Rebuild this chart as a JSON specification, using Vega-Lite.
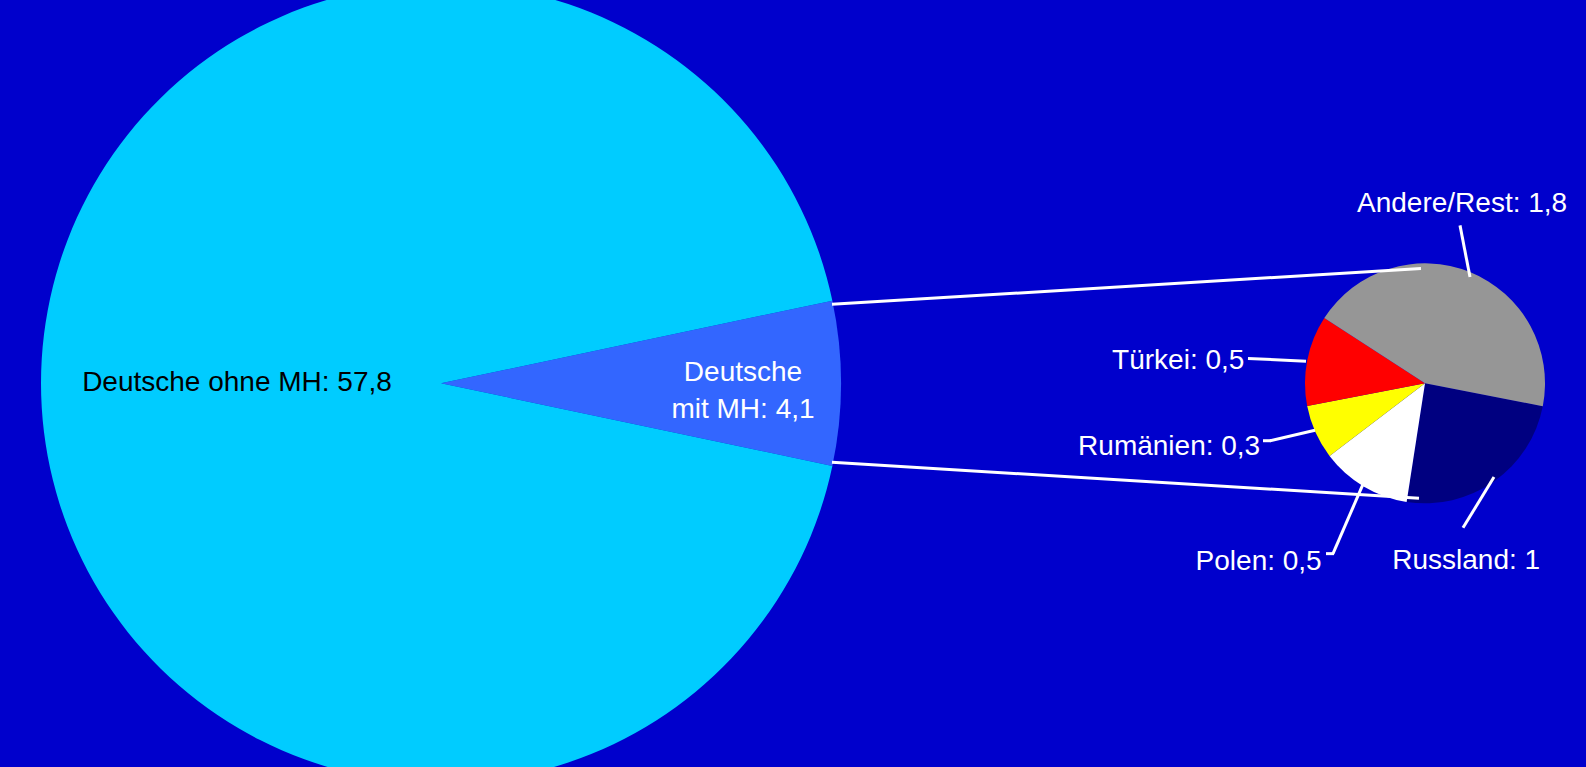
{
  "$schema": "https://vega.github.io/schema/vega-lite/v6.json",
  "width": 1586,
  "height": 767,
  "autosize": {"type": "fit", "contains": "padding"},
  "padding": 0,
  "background": "#0000CC",
  "config": {"view": {"stroke": null}, "text": {"font": "Liberation Sans", "fontSize": 28}},
  "datasets": {
    "gesamt": [
      {"nr": 1, "Gruppe": "Deutsche mit MH", "Wert": 4.1, "label": "Deutsche\nmit MH: 4,1"},
      {"nr": 2, "Gruppe": "Deutsche ohne MH", "Wert": 57.8, "label": "Deutsche ohne MH: 57,8"}
    ],
    "mitMH": [
      {"nr": 1, "Gruppe": "Russland", "Wert": 1.0, "label": "Russland: 1"},
      {"nr": 2, "Gruppe": "Polen", "Wert": 0.5, "label": "Polen: 0,5"},
      {"nr": 3, "Gruppe": "Rumänien", "Wert": 0.3, "label": "Rumänien: 0,3"},
      {"nr": 4, "Gruppe": "Türkei", "Wert": 0.5, "label": "Türkei: 0,5"},
      {"nr": 5, "Gruppe": "Andere/Rest", "Wert": 1.8, "label": "Andere/Rest: 1,8"}
    ]
  },
  "resolve": {"scale": {"theta": "independent"}},
  "layer": [
    {
      "data": {"name": "gesamt"},
      "mark": {"type": "arc", "radius": 400},
      "encoding": {
        "x": {"datum": 441, "type": "quantitative", "scale": {"domain": [0, 1586], "nice": false, "zero": false}, "axis": null},
        "y": {"datum": 388, "type": "quantitative", "scale": {"domain": [0, 767], "nice": false, "zero": false, "reverse": true}, "axis": null},
        "theta": {"field": "Wert", "type": "quantitative", "stack": true, "scale": {"range": [1.3627, 7.6459]}},
        "order": {"field": "nr", "type": "quantitative"},
        "color": {"field": "Gruppe", "type": "nominal", "legend": null,
          "scale": {"domain": ["Deutsche mit MH", "Deutsche ohne MH", "Russland", "Polen", "Rumänien", "Türkei", "Andere/Rest"],
                    "range": ["#3366FF", "#00CCFF", "#000080", "#FFFFFF", "#FFFF00", "#FF0000", "#969696"]}}
      }
    },
    {
      "data": {"name": "gesamt"},
      "mark": {"type": "text", "radius": 204, "align": "center", "baseline": "middle"},
      "encoding": {
        "x": {"datum": 441, "type": "quantitative", "axis": null},
        "y": {"datum": 388, "type": "quantitative", "axis": null},
        "theta": {"field": "Wert", "type": "quantitative", "stack": true, "scale": {"range": [1.3627, 7.6459]}},
        "order": {"field": "nr", "type": "quantitative"},
        "text": {"condition": {"test": "datum.nr === 2", "field": "label"}, "value": ""},
        "color": {"value": "#000000"}
      }
    },
    {
      "data": {"name": "gesamt"},
      "mark": {"type": "text", "radius": 302, "align": "center", "baseline": "middle", "lineBreak": "\n", "lineHeight": 37, "dy": -10},
      "encoding": {
        "x": {"datum": 441, "type": "quantitative", "axis": null},
        "y": {"datum": 388, "type": "quantitative", "axis": null},
        "theta": {"field": "Wert", "type": "quantitative", "stack": true, "scale": {"range": [1.3627, 7.6459]}},
        "order": {"field": "nr", "type": "quantitative"},
        "text": {"condition": {"test": "datum.nr === 1", "field": "label"}, "value": ""},
        "color": {"value": "#FFFFFF"}
      }
    },
    {
      "data": {"name": "mitMH"},
      "mark": {"type": "arc", "radius": 120},
      "encoding": {
        "x": {"datum": 1425, "type": "quantitative", "axis": null},
        "y": {"datum": 388, "type": "quantitative", "axis": null},
        "theta": {"field": "Wert", "type": "quantitative", "stack": true, "scale": {"range": [1.7628, 8.046]}},
        "order": {"field": "nr", "type": "quantitative"},
        "color": {"field": "Gruppe", "type": "nominal", "legend": null,
          "scale": {"domain": ["Deutsche mit MH", "Deutsche ohne MH", "Russland", "Polen", "Rumänien", "Türkei", "Andere/Rest"],
                    "range": ["#3366FF", "#00CCFF", "#000080", "#FFFFFF", "#FFFF00", "#FF0000", "#969696"]}}
      }
    },
    {
      "data": {"name": "mitMH"},
      "mark": {"type": "text", "radius": 184, "align": "right", "baseline": "middle", "dy": 13},
      "encoding": {
        "x": {"datum": 1425, "type": "quantitative", "axis": null},
        "y": {"datum": 388, "type": "quantitative", "axis": null},
        "theta": {"field": "Wert", "type": "quantitative", "stack": true, "scale": {"range": [1.7628, 8.046]}},
        "order": {"field": "nr", "type": "quantitative"},
        "text": {"condition": {"test": "datum.nr === 4", "field": "label"}, "value": ""},
        "color": {"value": "#FFFFFF"}
      }
    },
    {
      "data": {"name": "mitMH"},
      "mark": {"type": "text", "radius": 174, "align": "right", "baseline": "middle", "dx": -6, "dy": -7},
      "encoding": {
        "x": {"datum": 1425, "type": "quantitative", "axis": null},
        "y": {"datum": 388, "type": "quantitative", "axis": null},
        "theta": {"field": "Wert", "type": "quantitative", "stack": true, "scale": {"range": [1.7628, 8.046]}},
        "order": {"field": "nr", "type": "quantitative"},
        "text": {"condition": {"test": "datum.nr === 3", "field": "label"}, "value": ""},
        "color": {"value": "#FFFFFF"}
      }
    },
    {
      "data": {"name": "mitMH"},
      "mark": {"type": "text", "radius": 202, "align": "right", "baseline": "middle", "dy": 5},
      "encoding": {
        "x": {"datum": 1425, "type": "quantitative", "axis": null},
        "y": {"datum": 388, "type": "quantitative", "axis": null},
        "theta": {"field": "Wert", "type": "quantitative", "stack": true, "scale": {"range": [1.7628, 8.046]}},
        "order": {"field": "nr", "type": "quantitative"},
        "text": {"condition": {"test": "datum.nr === 2", "field": "label"}, "value": ""},
        "color": {"value": "#FFFFFF"}
      }
    },
    {
      "data": {"name": "mitMH"},
      "mark": {"type": "text", "radius": 176, "align": "center", "baseline": "middle", "dx": -60, "dy": 34},
      "encoding": {
        "x": {"datum": 1425, "type": "quantitative", "axis": null},
        "y": {"datum": 388, "type": "quantitative", "axis": null},
        "theta": {"field": "Wert", "type": "quantitative", "stack": true, "scale": {"range": [1.7628, 8.046]}},
        "order": {"field": "nr", "type": "quantitative"},
        "text": {"condition": {"test": "datum.nr === 1", "field": "label"}, "value": ""},
        "color": {"value": "#FFFFFF"}
      }
    },
    {
      "data": {"name": "mitMH"},
      "mark": {"type": "text", "radius": 190, "align": "center", "baseline": "middle", "dx": -34, "dy": -3},
      "encoding": {
        "x": {"datum": 1425, "type": "quantitative", "axis": null},
        "y": {"datum": 388, "type": "quantitative", "axis": null},
        "theta": {"field": "Wert", "type": "quantitative", "stack": true, "scale": {"range": [1.7628, 8.046]}},
        "order": {"field": "nr", "type": "quantitative"},
        "text": {"condition": {"test": "datum.nr === 5", "field": "label"}, "value": ""},
        "color": {"value": "#FFFFFF"}
      }
    },
    {
      "data": {"values": [{}]},
      "mark": {"type": "rule", "color": "#FFFFFF", "strokeWidth": 3},
      "encoding": {"x": {"datum": 832, "type": "quantitative", "axis": null}, "y": {"datum": 305.5, "type": "quantitative", "axis": null}, "x2": {"datum": 1421}, "y2": {"datum": 268}}
    },
    {
      "data": {"values": [{}]},
      "mark": {"type": "rule", "color": "#FFFFFF", "strokeWidth": 3},
      "encoding": {"x": {"datum": 832, "type": "quantitative", "axis": null}, "y": {"datum": 470.5, "type": "quantitative", "axis": null}, "x2": {"datum": 1419}, "y2": {"datum": 508}}
    },
    {
      "data": {"values": [{}]},
      "mark": {"type": "rule", "color": "#FFFFFF", "strokeWidth": 3},
      "encoding": {"x": {"datum": 1248, "type": "quantitative", "axis": null}, "y": {"datum": 362, "type": "quantitative", "axis": null}, "x2": {"datum": 1306}, "y2": {"datum": 365}}
    },
    {
      "data": {"values": [{}]},
      "mark": {"type": "rule", "color": "#FFFFFF", "strokeWidth": 3},
      "encoding": {"x": {"datum": 1263, "type": "quantitative", "axis": null}, "y": {"datum": 448, "type": "quantitative", "axis": null}, "x2": {"datum": 1271}, "y2": {"datum": 448}}
    },
    {
      "data": {"values": [{}]},
      "mark": {"type": "rule", "color": "#FFFFFF", "strokeWidth": 3},
      "encoding": {"x": {"datum": 1270, "type": "quantitative", "axis": null}, "y": {"datum": 448, "type": "quantitative", "axis": null}, "x2": {"datum": 1315}, "y2": {"datum": 437}}
    },
    {
      "data": {"values": [{}]},
      "mark": {"type": "rule", "color": "#FFFFFF", "strokeWidth": 3},
      "encoding": {"x": {"datum": 1326, "type": "quantitative", "axis": null}, "y": {"datum": 566, "type": "quantitative", "axis": null}, "x2": {"datum": 1334}, "y2": {"datum": 566}}
    },
    {
      "data": {"values": [{}]},
      "mark": {"type": "rule", "color": "#FFFFFF", "strokeWidth": 3},
      "encoding": {"x": {"datum": 1333, "type": "quantitative", "axis": null}, "y": {"datum": 566, "type": "quantitative", "axis": null}, "x2": {"datum": 1364}, "y2": {"datum": 491}}
    },
    {
      "data": {"values": [{}]},
      "mark": {"type": "rule", "color": "#FFFFFF", "strokeWidth": 3},
      "encoding": {"x": {"datum": 1463, "type": "quantitative", "axis": null}, "y": {"datum": 539, "type": "quantitative", "axis": null}, "x2": {"datum": 1494}, "y2": {"datum": 486}}
    },
    {
      "data": {"values": [{}]},
      "mark": {"type": "rule", "color": "#FFFFFF", "strokeWidth": 3},
      "encoding": {"x": {"datum": 1460, "type": "quantitative", "axis": null}, "y": {"datum": 223, "type": "quantitative", "axis": null}, "x2": {"datum": 1470}, "y2": {"datum": 277}}
    }
  ]
}
